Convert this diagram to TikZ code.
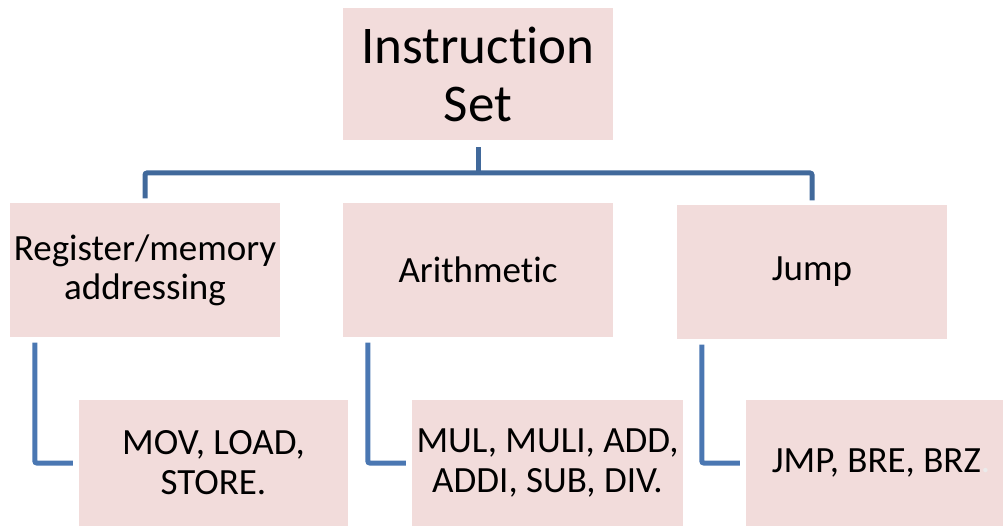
\documentclass[tikz,border=0pt]{standalone}
\usepackage{fontspec}
\setmainfont{Carlito}[Ligatures=NoCommon]
\usetikzlibrary{calc}

\definecolor{boxpink}{HTML}{F2DCDB}
\definecolor{busblue}{HTML}{41699B}
\definecolor{linkblue}{HTML}{4A77B2}

\tikzset{
  box/.style={fill=boxpink, inner sep=0pt, align=center, text=black},
  link/.style={draw=linkblue, line width=5pt},
}

\begin{document}
\begin{tikzpicture}[x=1pt, y=-1pt]
        \useasboundingbox (0,0) rectangle (1003,526);
        % top and second row
        \node[box, minimum width=270pt, minimum height=132pt, font=\fontsize{53}{58}\selectfont] (root) at (478,74) {Instruction\\Set};
        \node[box, minimum width=270pt, minimum height=133pt, font=\fontsize{37}{39}\selectfont] (reg) at (145,270) {Register/memory\\addressing};
        \node[box, minimum width=270pt, minimum height=133pt, font=\fontsize{37}{39}\selectfont] (arith) at (478,270) {Arithmetic};
        \node[box, minimum width=270pt, minimum height=133pt, font=\fontsize{37}{39}\selectfont] (jump) at (812,272) {Jump};
        % bottom row
        \node[box, minimum width=269pt, minimum height=126pt, font=\fontsize{37}{40}\selectfont] (mov) at (213.5,463) {MOV, LOAD,\\STORE.};
        \node[box, minimum width=271pt, minimum height=126pt, font=\fontsize{37}{40}\selectfont] (mul) at (547.5,463) {MUL, MULI, ADD,\\ADDI, SUB, DIV.};
        \node[box, minimum width=270pt, minimum height=126pt, font=\fontsize{37}{40}\selectfont] (jmp) at (881,463) {JMP, BRE, BRZ\textcolor{black!8}{.}};
        \coordinate (bus) at (0,173);
        % connectors
        \draw [link, draw=busblue, shorten <=7pt] (root.south) -- (root.south |- bus);
        \draw [link, draw=busblue, rounded corners=2pt, shorten <=5pt, shorten >=5pt] (reg.north) -- (reg.north |- bus) -- (jump.north |- bus) -- (jump.north);
        \draw [link, rounded corners=2pt, shorten <=6pt, shorten >=6pt] ([xshift=25pt]reg.south west) |- (mov.west);
        \draw [link, rounded corners=2pt, shorten <=6pt, shorten >=6pt] ([xshift=25pt]arith.south west) |- (mul.west);
        \draw [link, rounded corners=2pt, shorten <=6pt, shorten >=6pt] ([xshift=25pt]jump.south west) |- (jmp.west);
\end{tikzpicture}
\end{document}
